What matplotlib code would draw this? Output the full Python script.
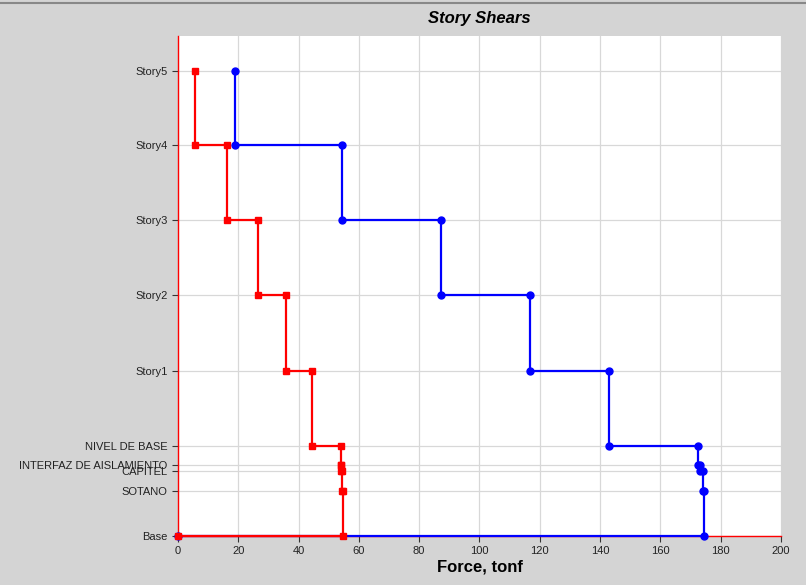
import matplotlib.pyplot as plt

plt.rcParams['font.family'] = ['Liberation Sans', 'DejaVu Sans']

# pisos (de arriba hacia abajo) y elevaciones
pisos = ['Story5', 'Story4', 'Story3', 'Story2', 'Story1', 'NIVEL DE BASE',
         'INTERFAZ DE AISLAMIENTO', 'CAPITEL', 'SOTANO', 'Base']
elev = [18.56, 15.6, 12.6, 9.6, 6.6, 3.6, 2.83, 2.6, 1.8, 0.0]

# cortante por piso (tonf)
v_azul = [18.9, 54.4, 87.2, 116.7, 143.0, 172.6, 173.2, 174.0, 174.3]
v_rojo = [5.6, 16.3, 26.5, 35.8, 44.4, 54.0, 54.2, 54.5, 54.6]


def escalera(v):
    xs, ys = [], []
    for i in range(len(v)):
        xs += [v[i], v[i]]
        ys += [elev[i], elev[i + 1]]
    xs.append(0)
    ys.append(0)
    return xs, ys


fig = plt.figure(figsize=[8.06, 5.85], dpi=100, facecolor='#d4d4d4')
ax = fig.add_axes([0.2208, 0.0838, 0.7482, 0.8547])

x, y = escalera(v_azul)
ax.plot(x, y, color='#0000ff', lw=1.6, marker='o', ms=5, zorder=3, clip_on=False)
x, y = escalera(v_rojo)
ax.plot(x, y, color='#ff0000', lw=1.6, marker='s', ms=5, zorder=4, clip_on=False)

ax.set_xlim(0, 200)
ax.set_ylim(0, 19.96)
ax.set_xticks(range(0, 201, 20))
ax.set_yticks(elev)
ax.set_yticklabels(pisos)
ax.grid(True, color='#d8d8d8', lw=0.9)
ax.set_axisbelow(True)
for s in ['top', 'right']:
    ax.spines[s].set_visible(False)
for s in ['left', 'bottom']:
    ax.spines[s].set_color('#ff0000')
    ax.spines[s].set_linewidth(1.0)
    ax.spines[s].set_zorder(2)
ax.tick_params(axis='both', labelsize=8, labelcolor='#222222', color='#333333', length=4)

ax.set_xlabel('Force, tonf', fontsize=12, fontweight='bold', labelpad=2)
fig.text(0.595, 0.968, 'Story Shears', ha='center', va='center', fontsize=12,
         fontweight='bold', style='italic')
fig.add_artist(plt.Line2D([0, 1], [0.995, 0.995], color='#888888', lw=1.5))

plt.savefig('out.png', dpi=100, facecolor=fig.get_facecolor())
